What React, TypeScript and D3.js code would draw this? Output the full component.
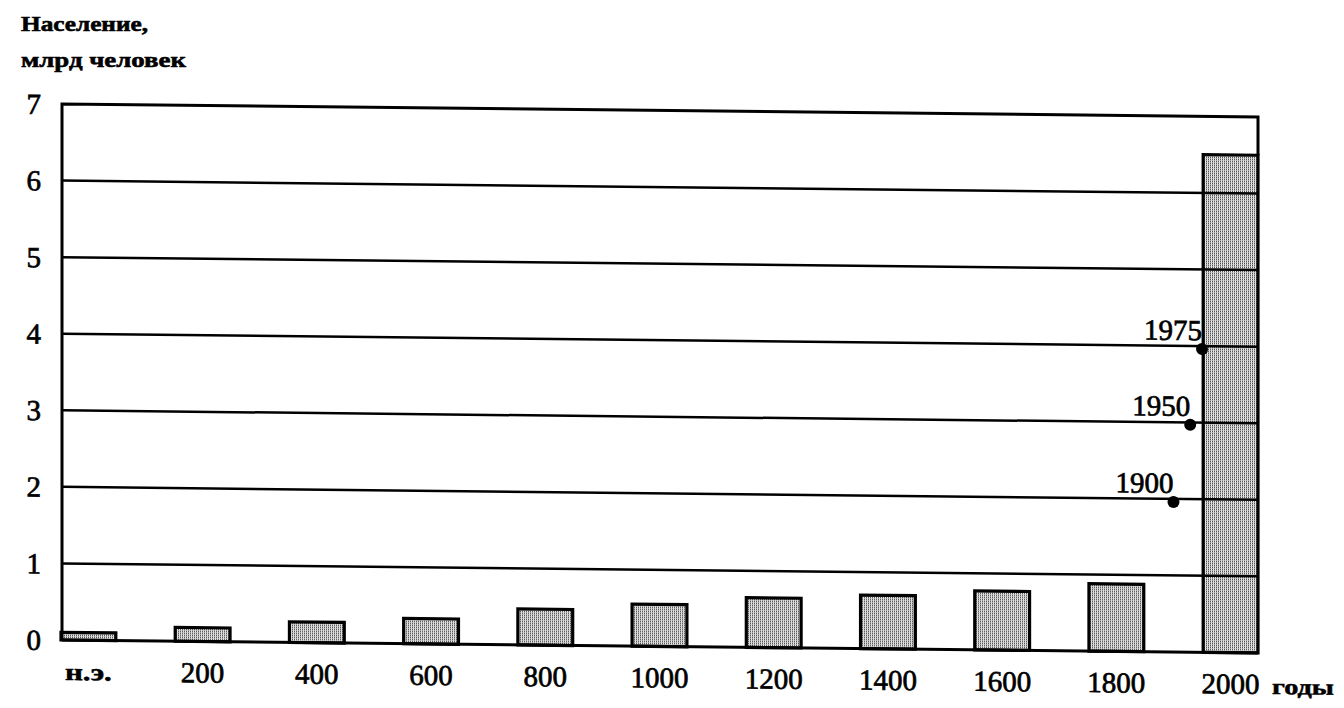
import React from "react";
import * as d3 from "d3";

const categories = ["н.э.", "200", "400", "600", "800", "1000", "1200", "1400", "1600", "1800", "2000"];
const population = [0.1, 0.18, 0.27, 0.33, 0.47, 0.55, 0.65, 0.7, 0.77, 0.88, 6.5];
const yTicks = [0, 1, 2, 3, 4, 5, 6, 7];
const markerYears = [1900, 1950, 1975];
const markerValues = [1.96, 2.97, 3.96];
const titleLines = ["Население,", "млрд человек"];
const xAxisTitle = "годы";

const W = 1344;
const H = 708;
const left = 62;
const right = 1258;
const top = 104;
const bottom = 640;
const SKEW = 0.62;

export default function App() {
  const x = d3.scaleBand<string>().domain(categories).range([left - 1, right]).paddingInner(0.52).paddingOuter(0);
  const y = d3.scaleLinear().domain([0, 7]).range([bottom, top]);
  const bw = x.bandwidth();
  const c1800 = (x("1800") as number) + bw / 2;
  const c2000 = (x("2000") as number) + bw / 2;
  const yearsBefore = d3.scaleSqrt().domain([0, 100]).range([c2000, c2000 - (c2000 - c1800) / 2]);
  const serif = "Liberation Serif";
  const skew = `translate(${left},0) skewY(${SKEW}) translate(${-left},0)`;
  const last = categories[categories.length - 1];
  const numStyle = { fontFamily: serif, fontSize: 29, stroke: "#000", strokeWidth: 0.7 };
  return (
    <svg width={W} height={H} style={{ position: "absolute", left: 0, top: 0, background: "#fff" }}>
      <defs>
        <pattern id="halftone" width="2" height="2" patternUnits="userSpaceOnUse" patternTransform={`skewY(${-SKEW})`}>
          <rect width="2" height="2" fill="#f4f4f4" />
          <rect x="0" y="0" width="1" height="1" fill="#111" />
          <rect x="1" y="1" width="1" height="1" fill="#c8c8c8" />
        </pattern>
        <pattern id="halftoneDark" width="2" height="2" patternUnits="userSpaceOnUse" patternTransform={`skewY(${-SKEW})`}>
          <rect width="2" height="2" fill="#ffffff" />
          <rect x="0" y="0" width="1" height="1" fill="#000" />
          <rect x="1" y="1" width="1" height="1" fill="#c4c4c4" />
        </pattern>
      </defs>
      {titleLines.map((t, i) => (
        <text key={t} x={21} y={31 + i * 36} fontFamily={serif} fontWeight="bold" fontSize={22}
          textLength={i === 0 ? 127 : 165} lengthAdjust="spacingAndGlyphs" stroke="#000" strokeWidth={0.6} fill="#000">{t}</text>
      ))}
      <g transform={skew}>
        {categories.map((c, i) => (
          <rect key={c} x={x(c)} y={y(population[i])} width={bw} height={y(0) - y(population[i])}
            fill={c === last ? "url(#halftoneDark)" : "url(#halftone)"} stroke="#000" strokeWidth={3.2} />
        ))}
        {yTicks.filter((t) => t > 0 && t < 7).map((t) => (
          <line key={t} x1={left} x2={right} y1={y(t)} y2={y(t)} stroke="#000" strokeWidth={2.5} />
        ))}
        <path d={`M${left},${y(0)} V${y(7)} H${right} V${y(population[population.length - 1])}`}
          fill="none" stroke="#000" strokeWidth={3} />
        <line x1={left} x2={right} y1={y(0)} y2={y(0)} stroke="#000" strokeWidth={3} />
        {yTicks.map((t) => (
          <text key={t} x={41} y={y(t)} dy="0.35em" textAnchor="end" style={numStyle} fill="#000">{t}</text>
        ))}
        {categories.map((c, i) => (
          i === 0 ? (
            <text key={c} x={(x(c) as number) + bw / 2} y={680} textAnchor="middle" fontFamily={serif}
              fontWeight="bold" fontSize={24} textLength={47} lengthAdjust="spacingAndGlyphs"
              stroke="#000" strokeWidth={0.5} fill="#000">{c}</text>
          ) : (
            <text key={c} x={(x(c) as number) + bw / 2} y={681} textAnchor="middle" style={numStyle} fill="#000">{c}</text>
          )
        ))}
        <text x={1272} y={681} fontFamily={serif} fontWeight="bold" fontSize={22} textLength={62}
          lengthAdjust="spacingAndGlyphs" stroke="#000" strokeWidth={0.5} fill="#000">{xAxisTitle}</text>
        {markerYears.map((yr, i) => {
          const cx = yearsBefore(2000 - yr);
          const cy = y(markerValues[i]);
          return (
            <g key={yr}>
              <circle cx={cx} cy={cy} r={6} fill="#000" />
              <text x={cx} y={cy - 9} textAnchor="end" style={numStyle} fill="#000">{yr}</text>
            </g>
          );
        })}
      </g>
    </svg>
  );
}
